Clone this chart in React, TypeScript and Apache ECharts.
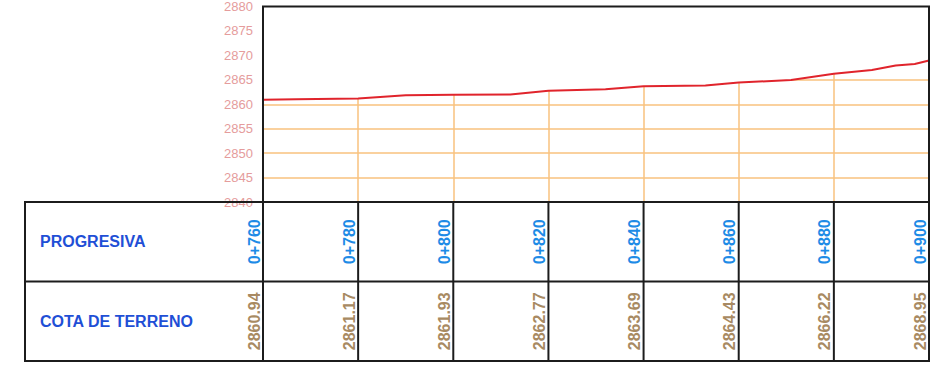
import React, { useEffect, useRef } from 'react';
import * as echarts from 'echarts';

// Stations (progresiva) and ground elevations (cota de terreno)
const stations = ['0+760', '0+780', '0+800', '0+820', '0+840', '0+860', '0+880', '0+900'];
const stationDistances = [760, 780, 800, 820, 840, 860, 880, 900];
const cotaTerreno = [2860.94, 2861.17, 2861.93, 2862.77, 2863.69, 2864.43, 2866.22, 2868.95];

// Terrain profile (denser points)
const profileDistances = [760, 767, 780, 790, 800, 812, 820, 832, 840, 853, 860, 871, 880, 888, 893, 897, 900];
const profileElevations = [2860.94, 2861.04, 2861.17, 2861.85, 2861.93, 2861.98, 2862.77, 2863.05, 2863.69, 2863.86, 2864.43, 2864.98, 2866.22, 2866.99, 2867.95, 2868.25, 2868.95];

const rowTitles = ['PROGRESIVA', 'COTA DE TERRENO'];

const X_MIN = 760;
const X_MAX = 900;
const X_STEP = 20;
const Y_MIN = 2840;
const Y_MAX = 2880;
const Y_STEP = 5;

const FONT = '"Liberation Sans", Arial, sans-serif';
const ORANGE = '#f8c27e';
const BORDER = '#1c1c1c';

export default function App() {
  const ref = useRef<HTMLDivElement>(null);

  useEffect(() => {
    if (!ref.current) return;
    const chart = echarts.init(ref.current, undefined, { renderer: 'svg' });

    const option: any = {
      animation: false,
      backgroundColor: '#ffffff',
      grid: [
        { left: 263, right: 5, top: 3, height: 199 },
        { left: 263, right: 5, top: 202, height: 159 },
      ],
      xAxis: [
        {
          gridIndex: 0,
          type: 'value',
          min: X_MIN,
          max: X_MAX,
          interval: X_STEP,
          axisLabel: { show: false },
          axisTick: { show: false },
          axisLine: { show: false },
          splitLine: { show: true, lineStyle: { color: ORANGE, width: 1.5 } },
        },
        { gridIndex: 1, type: 'value', min: X_MIN, max: X_MAX, show: false },
      ],
      yAxis: [
        {
          gridIndex: 0,
          type: 'value',
          min: Y_MIN,
          max: Y_MAX,
          interval: Y_STEP,
          axisLabel: {
            color: '#e59c9c',
            fontSize: 13,
            fontFamily: FONT,
            margin: 10,
            formatter: (v: number) => String(v),
          },
          axisTick: { show: false },
          axisLine: { show: false },
          splitLine: { show: true, lineStyle: { color: ORANGE, width: 1.5 } },
        },
        { gridIndex: 1, type: 'value', min: 0, max: 2, inverse: true, show: false },
      ],
      series: [
        {
          name: 'Terreno',
          type: 'line',
          xAxisIndex: 0,
          yAxisIndex: 0,
          data: profileDistances.map((d, i) => [d, profileElevations[i]]),
          symbol: 'none',
          silent: true,
          lineStyle: { color: '#e0242c', width: 2 },
          areaStyle: { color: '#ffffff', opacity: 1, origin: 'end' },
          z: 2,
        },
        {
          name: 'frame',
          type: 'custom',
          xAxisIndex: 0,
          yAxisIndex: 0,
          silent: true,
          z: 10,
          data: [[X_MIN, Y_MAX]],
          renderItem: (params: any, api: any) => {
            const p0 = api.coord([X_MIN, Y_MAX]);
            const p1 = api.coord([X_MAX, Y_MIN]);
            return {
              type: 'rect',
              shape: { x: p0[0], y: p0[1], width: p1[0] - p0[0], height: p1[1] - p0[1] },
              style: { fill: 'none', stroke: BORDER, lineWidth: 2 },
            };
          },
        },
        {
          name: 'tableFrame',
          type: 'custom',
          xAxisIndex: 1,
          yAxisIndex: 1,
          silent: true,
          z: 10,
          clip: false,
          data: [[X_MIN, 0]],
          renderItem: (params: any, api: any) => {
            const headerW = 238;
            const pTop = api.coord([X_MIN, 0]);
            const pMid = api.coord([X_MIN, 1]);
            const pBot = api.coord([X_MAX, 2]);
            const left = pTop[0] - headerW;
            return {
              type: 'group',
              children: [
                {
                  type: 'rect',
                  shape: { x: left, y: pTop[1], width: pBot[0] - left, height: pBot[1] - pTop[1] },
                  style: { fill: 'none', stroke: BORDER, lineWidth: 2 },
                },
                {
                  type: 'line',
                  shape: { x1: left, y1: pMid[1], x2: pBot[0], y2: pMid[1] },
                  style: { stroke: BORDER, lineWidth: 2 },
                },
                ...rowTitles.map((t, r) => ({
                  type: 'text',
                  x: left + 15,
                  y: (api.coord([X_MIN, r])[1] + api.coord([X_MIN, r + 1])[1]) / 2,
                  style: {
                    text: t,
                    fill: '#1f4fd6',
                    fontSize: 16,
                    fontWeight: 'bold',
                    fontFamily: FONT,
                    align: 'left',
                    verticalAlign: 'middle',
                  },
                })),
              ],
            };
          },
        },
        {
          name: 'tableCells',
          type: 'custom',
          xAxisIndex: 1,
          yAxisIndex: 1,
          silent: true,
          z: 11,
          clip: false,
          data: stationDistances.map((d, i) => [d, i]),
          renderItem: (params: any, api: any) => {
            const idx = params.dataIndex;
            const d = api.value(0);
            const a = api.coord([d, 0]);
            const b = api.coord([d, 1]);
            const c = api.coord([d, 2]);
            const x = a[0];
            return {
              type: 'group',
              children: [
                {
                  type: 'line',
                  shape: { x1: x, y1: a[1], x2: x, y2: c[1] },
                  style: { stroke: BORDER, lineWidth: 2 },
                },
                {
                  type: 'text',
                  x: x - 1,
                  y: (a[1] + b[1]) / 2,
                  rotation: Math.PI / 2,
                  style: {
                    text: stations[idx],
                    fill: '#1e8be6',
                    fontSize: 16,
                    fontWeight: 'bold',
                    fontFamily: FONT,
                    align: 'center',
                    verticalAlign: 'bottom',
                  },
                },
                {
                  type: 'text',
                  x: x - 1,
                  y: (b[1] + c[1]) / 2,
                  rotation: Math.PI / 2,
                  style: {
                    text: cotaTerreno[idx].toFixed(2),
                    fill: '#a88a62',
                    fontSize: 16,
                    fontWeight: 'bold',
                    fontFamily: FONT,
                    align: 'center',
                    verticalAlign: 'bottom',
                  },
                },
              ],
            };
          },
        },
      ],
    };

    chart.setOption(option);
    return () => chart.dispose();
  }, []);

  return (
    <div
      ref={ref}
      style={{ position: 'fixed', left: 0, top: 0, width: 934, height: 366 }}
    />
  );
}
